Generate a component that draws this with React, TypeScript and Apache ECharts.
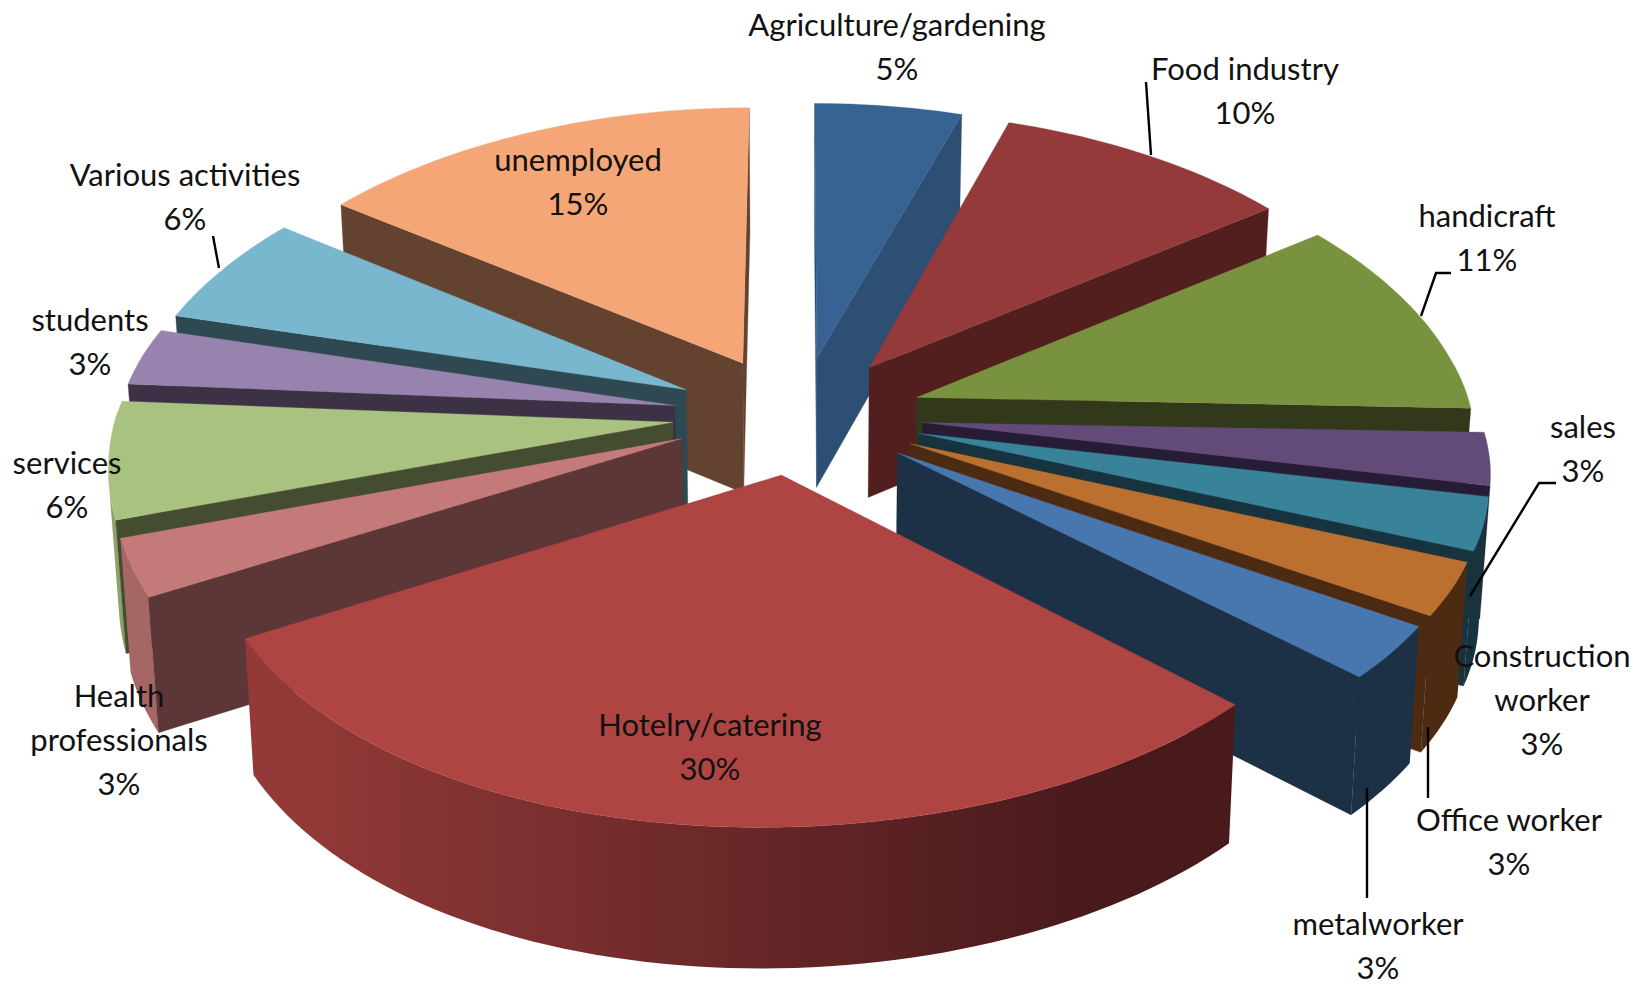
import React, { useEffect, useRef } from "react";
import * as echarts from "echarts";

const categories = ["Agriculture/gardening", "Food industry", "handicraft", "sales", "Construction\nworker", "Office worker", "metalworker", "Hotelry/catering", "Health\nprofessionals", "services", "students", "Various activities", "unemployed"];
const shares = [5, 10, 11, 3, 3, 3, 3, 30, 3, 6, 3, 6, 15];
const topColors = ["#376392", "#953a3a", "#79923f", "#624b78", "#38829a", "#bb7030", "#4876ae", "#af4543", "#c47a78", "#a9c27f", "#9883ae", "#79b7ce", "#f5a677"];
const sideColors = ["#2c4f73", "#521f1e", "#32381a", "#261c35", "#17333e", "#4c2b12", "#1c3046", "#491a1c", "#5d3738", "#444d30", "#3c3145", "#2e4951", "#63432f"];
const labelSpots = [[897, 46], [1245, 90], [1487, 237], [1583, 448], [1542, 699], [1509, 841], [1378, 945], [710, 746], [119, 739], [67, 484], [90, 341], [185, 196], [578, 181]];
const leaders = [
  [[1146, 82], [1151, 155]],
  [[1451, 273], [1436, 273], [1421, 316]],
  [[1556, 483], [1539, 483], [1470, 596]],
  [[1428, 727], [1428, 798]],
  [[1367, 788], [1367, 898]],
  [[213, 236], [219, 268]],
];

const CX = 798, CY = 415, RX_LEFT = 558, RX_RIGHT = 555, RY = 296, PERSP_Y = 0.115, PERSP_X = 0.135, DEPTH = 131, EXPLODE_X = 0.225, EXPLODE_Y = 0.2;
const SHEAR_Y = 15, SHIFT_X = 17;
const total = shares.reduce((a, b) => a + b, 0);

const project = (X: number, Y: number, z: number) => {
  const wy = 1 / (1 + PERSP_Y * Y);
  const wx = 1 / (1 + PERSP_X * Y);
  const rx = X > 0 ? RX_RIGHT : RX_LEFT;
  return [
    CX + rx * X * wx * (1 - 0.015 * z) + SHIFT_X * Math.max(0, -Y),
    CY - RY * Y * wy + z * DEPTH * Math.sqrt(wy) - SHEAR_Y * X * Math.max(0, 0.2 - Y),
  ];
};
const hex = (c: string) => [1, 3, 5].map((i) => parseInt(c.slice(i, i + 2), 16));
const rgb = (c: number[]) => `rgb(${c.map(Math.round).join(",")})`;

const slices = (() => {
  let cum = 0;
  return shares.map((v, i) => {
    const a0 = (cum / total) * 2 * Math.PI;
    cum += v;
    const a1 = (cum / total) * 2 * Math.PI;
    return { i, a0, a1, mid: (a0 + a1) / 2 };
  });
})();
const drawOrder = [...slices].sort((p, q) => Math.cos(q.mid) - Math.cos(p.mid)).map((s) => s.i);

const facing = (p: number[], q: number[], q2: number[], p2: number[]) => {
  const pts = [p, q, q2, p2];
  let area = 0;
  for (let i = 0; i < 4; i++) {
    const a = pts[i], b = pts[(i + 1) % 4];
    area += a[0] * b[1] - b[0] * a[1];
  }
  return area < 0;
};

const renderSlice = (params: any) => {
  const s = slices[drawOrder[params.dataIndex]];
  const ox = Math.sin(s.mid) * EXPLODE_X, oy = Math.cos(s.mid) * EXPLODE_Y;
  const steps = Math.max(6, Math.ceil(((s.a1 - s.a0) * 180) / Math.PI / 1.5));
  const ring: number[][] = [[ox, oy]];
  for (let k = 0; k <= steps; k++) {
    const a = s.a0 + ((s.a1 - s.a0) * k) / steps;
    ring.push([ox + Math.sin(a), oy + Math.cos(a)]);
  }
  const children: any[] = [];
  const side = sideColors[s.i];
  const leftRgb = hex(topColors[s.i]).map((v) => v * 0.84);
  const n = ring.length;
  const topEdge: number[][] = [];
  const bottomEdge: number[][] = [];
  for (let k = 0; k < n; k++) {
    const a = ring[k], b = ring[(k + 1) % n];
    const p = project(a[0], a[1], 0), q = project(b[0], b[1], 0);
    const p2 = project(a[0], a[1], 1), q2 = project(b[0], b[1], 1);
    if (!facing(p, q, q2, p2)) continue;
    if (k > 0 && k < n - 1) {
      if (!topEdge.length) {
        topEdge.push(p);
        bottomEdge.push(p2);
      }
      topEdge.push(q);
      bottomEdge.push(q2);
    } else {
      children.push({
        type: "polygon",
        shape: { points: [p, q, q2, p2] },
        style: { fill: side, stroke: side, lineWidth: 0.3 },
        silent: true,
      });
    }
  }
  if (topEdge.length) {
    const fill = new echarts.graphic.LinearGradient(280, 0, 1080, 0, [
      { offset: 0, color: rgb(leftRgb) },
      { offset: 1, color: side },
    ], true);
    children.unshift({
      type: "polygon",
      shape: { points: [...topEdge, ...bottomEdge.reverse()] },
      style: { fill },
      silent: true,
    });
  }
  children.push({
    type: "polygon",
    shape: { points: ring.map((r) => project(r[0], r[1], 0)) },
    style: { fill: topColors[s.i], stroke: topColors[s.i], lineWidth: 0.3 },
    silent: true,
  });
  return { type: "group", children };
};

export default function App() {
  const ref = useRef<HTMLDivElement>(null);
  useEffect(() => {
    const chart = echarts.init(ref.current!, undefined, { renderer: "svg" });
    chart.setOption({
      animation: false,
      backgroundColor: "#ffffff",
      series: [
        {
          type: "custom",
          coordinateSystem: "none",
          renderItem: renderSlice,
          data: drawOrder.map((i) => ({ name: categories[i].replace("\n", " "), value: [shares[i]] })),
          silent: true,
        },
      ],
      graphic: [
        ...leaders.map((points) => ({
          type: "polyline",
          z: 50,
          shape: { points },
          style: { stroke: "#000000", lineWidth: 2.4, fill: "none" },
        })),
        ...categories.map((name, i) => ({
          type: "text",
          z: 60,
          x: labelSpots[i][0],
          y: labelSpots[i][1],
          style: {
            text: `${name}\n${shares[i]}%`,
            fontFamily: "Lato",
            fontSize: 31,
            lineHeight: 44,
            fill: "#111111",
            align: "center",
            verticalAlign: "middle",
          },
        })),
      ],
    });
    return () => chart.dispose();
  }, []);
  return <div ref={ref} style={{ position: "absolute", left: 0, top: 0, width: 1646, height: 987 }} />;
}
